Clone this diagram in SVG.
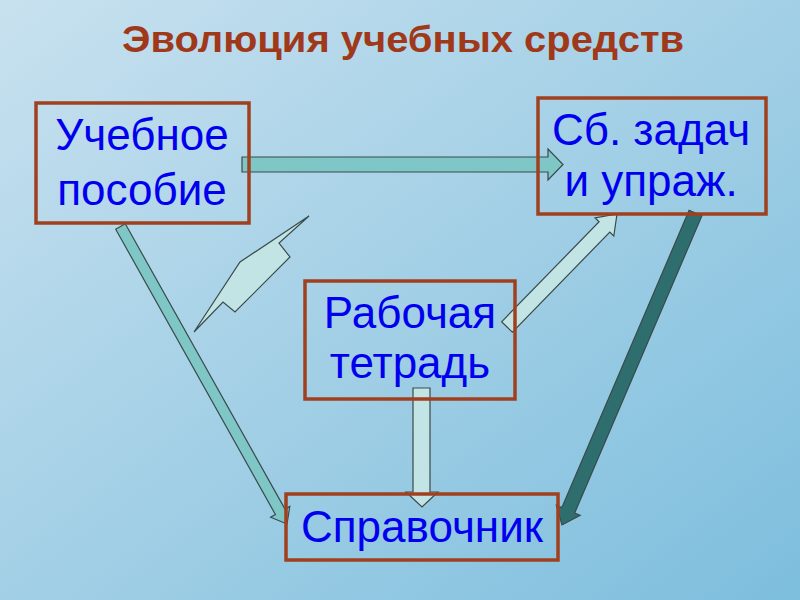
<svg xmlns="http://www.w3.org/2000/svg" width="800" height="600" viewBox="0 0 800 600">
  <defs>
    <linearGradient id="bg" x1="0" y1="0" x2="1" y2="1">
      <stop offset="0" stop-color="#C8E1EF"/>
      <stop offset="1" stop-color="#7DBEDD"/>
    </linearGradient>
  </defs>
  <style>
    .box { fill: none; stroke: #A0401E; stroke-width: 3.5; }
    .lbl { font-family: "Liberation Sans", Arial, sans-serif; font-size: 44px; fill: #0000EE; text-anchor: middle; }
    .title { font-family: "Liberation Sans", Arial, sans-serif; font-size: 36px; font-weight: bold; fill: #A0381A; }
    .arr { stroke: #3A4A4A; stroke-width: 1.2; stroke-linejoin: miter; }
    .mid { fill: #7FC7C7; }
    .light { fill: #C2E4E4; }
    .dark { fill: #2F6E6E; }
  </style>
  <rect width="800" height="600" fill="url(#bg)"/>
  <text class="title" x="122" y="52" textLength="562" lengthAdjust="spacingAndGlyphs">Эволюция учебных средств</text>

  <g id="connectors">
    <polygon class="arr mid" points="242,157 548,157 548,149 563,164.5 548,180 548,172 242,172"/>
    <polygon class="arr mid" points="115.7,229.2 275.4,514.5 270.6,517.2 287,524 289.8,506.4 285,509.1 125.3,223.8"/>
    <polygon class="arr dark" points="689.1,210.3 561.9,507.5 556.3,505.2 562,525 580.2,515.4 574.7,513.0 701.9,215.8"/>
    <polygon class="arr light" points="501.6,321.8 599.1,221.7 595.1,217.8 617,214 613.8,236.0 609.8,232.1 512.4,332.2"/>
    <polygon class="arr light" points="413,388 430,388 430,492 438,492 422,507 406,492 413,492"/>
    <polygon class="arr light" points="309,216 279,243 290,257 235,312 223,302 194,332 240,262"/>
  </g>

  <g id="node-uchebnoe">
    <rect class="box" x="36" y="103" width="213" height="120"/>
    <text class="lbl" x="142" y="150">Учебное</text>
    <text class="lbl" x="142" y="205">пособие</text>
  </g>
  <g id="node-sbornik">
    <rect class="box" x="538" y="98" width="228" height="116"/>
    <text class="lbl" x="651" y="145">Сб. задач</text>
    <text class="lbl" x="651" y="196">и упраж.</text>
  </g>
  <g id="node-tetrad">
    <rect class="box" x="305" y="281" width="210" height="118"/>
    <text class="lbl" x="410" y="328">Рабочая</text>
    <text class="lbl" x="410" y="378">тетрадь</text>
  </g>
  <g id="node-spravochnik">
    <rect class="box" x="286" y="494" width="272" height="66"/>
    <text class="lbl" x="422" y="542">Справочник</text>
  </g>
</svg>
